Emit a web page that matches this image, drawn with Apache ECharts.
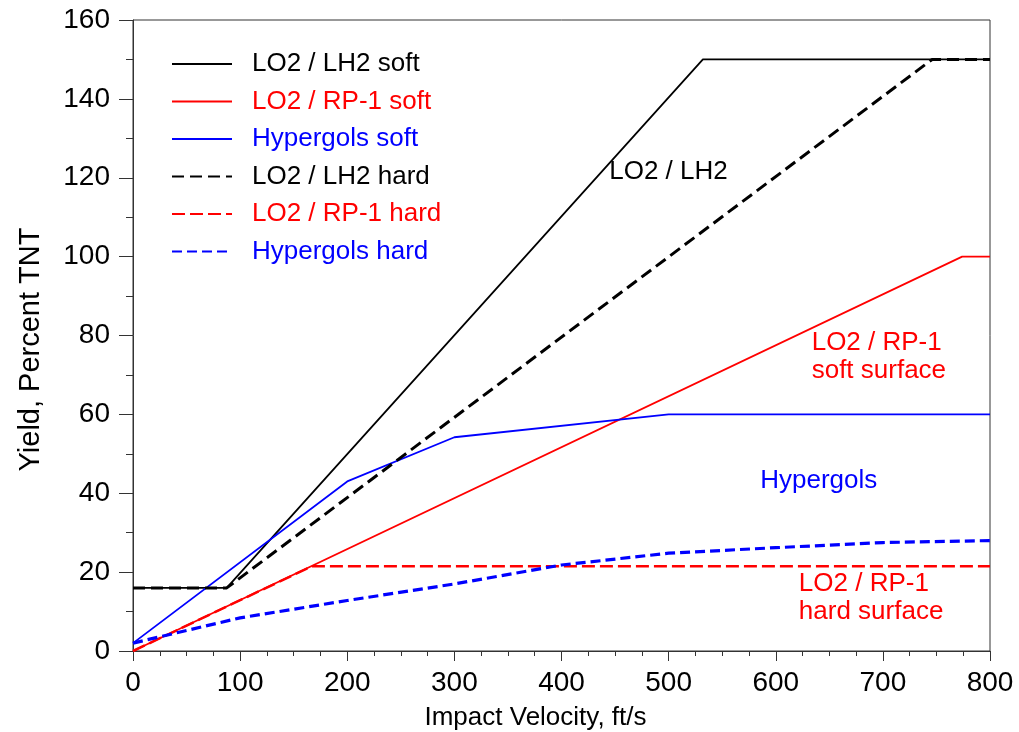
<!DOCTYPE html>
<html>
<head>
<meta charset="utf-8">
<script src="https://cdn.jsdelivr.net/npm/echarts@6/dist/echarts.min.js"></script>
<style>html,body{margin:0;padding:0;background:#fff}#c{width:1019px;height:732px}</style>
</head>
<body>
<div id="c"></div>
<script>
// Series data: [velocity ft/s, yield % TNT]
var lh2Soft   = [[0,16],[87.5,16],[532,150],[800,150]];
var rp1Soft   = [[0,0],[774,100],[800,100]];
var hypSoft   = [[0,2],[200,43],[300,54.2],[500,60],[800,60]];
var lh2Hard   = [[0,16],[87.5,16],[746,150],[800,150]];
var rp1Hard   = [[0,0],[167,21.5],[800,21.5]];
var hypHard   = [[0,2],[100,8.4],[200,12.8],[300,17],[400,21.8],[500,24.8],[600,26.2],[700,27.5],[800,28]];

var seriesNames = ['LO2 / LH2 soft','LO2 / RP-1 soft','Hypergols soft','LO2 / LH2 hard','LO2 / RP-1 hard','Hypergols hard'];
var seriesColors = ['#000000','#ff0000','#0000ff','#000000','#ff0000','#0000ff'];

// Annotation texts and their anchor points (left edge, vertical middle) in data coordinates
var annoTexts  = ['LO2 / LH2','LO2 / RP-1\nsoft surface','Hypergols','LO2 / RP-1\nhard surface'];
var annoPoints = [[445,121.5],[634,74.4],[586,43],[622,13.3]];
var annoColors = ['#000000','#ff0000','#0000ff','#ff0000'];

var xTicks = {min:0, max:800, interval:100};
var yTicks = {min:0, max:160, interval:20};

var FONT = '"Liberation Sans", Arial, sans-serif';
var chart = echarts.init(document.getElementById('c'), null, {renderer:'canvas'});

var datasets = [lh2Soft, rp1Soft, hypSoft, lh2Hard, rp1Hard, hypHard];
var dashes = [null, null, null, [12,6], [13,5], [10,5]];
var widths = [1.8, 1.8, 1.8, 3, 2.5, 3.2];

var series = datasets.map(function(d,i){
  return {
    name: seriesNames[i], type:'line', data:d, symbol:'none', showSymbol:false, animation:false,
    lineStyle:{color:seriesColors[i], width:widths[i], type: dashes[i] ? dashes[i] : 'solid'},
    itemStyle:{color:seriesColors[i]},
    z: 2 + i
  };
});

series.push({
  name:'annotations', type:'scatter', animation:false, silent:true,
  symbolSize:1, itemStyle:{color:'rgba(0,0,0,0)'},
  data: annoPoints.map(function(p,i){
    return {value:p, label:{show:true, formatter:annoTexts[i], color:annoColors[i],
      position:[0,0], align:'left', verticalAlign:'middle',
      fontSize:26, lineHeight:28, fontFamily:FONT, opacity:1}};
  }),
  z: 10
});

chart.setOption({
  backgroundColor:'#ffffff',
  animation:false,
  grid:{left:133, right:29, top:20, bottom:81, show:true, borderColor:'#333', borderWidth:1,
        backgroundColor:'transparent', containLabel:false, outerBoundsMode:'none'},
  legend:{
    orient:'vertical', left:166, top:46, itemWidth:60, itemHeight:24, itemGap:13.5 - 2,
    data: seriesNames.map(function(n,i){ return {name:n, textStyle:{color:seriesColors[i]}}; }),
    itemStyle:{opacity:0},
    textStyle:{fontSize:26, fontFamily:FONT, padding:[0,0,0,15]},
    selectedMode:false
  },
  xAxis:{
    type:'value', min:xTicks.min, max:xTicks.max, interval:xTicks.interval,
    name:'Impact Velocity, ft/s', nameLocation:'middle', nameGap:54,
    nameTextStyle:{fontSize:26, color:'#000', fontFamily:FONT, padding:[0,52,0,0]},
    axisLine:{show:true, lineStyle:{color:'#333', width:1}},
    axisTick:{show:true, inside:false, length:10, lineStyle:{color:'#333'}},
    minorTick:{show:true, splitNumber:4, length:5, lineStyle:{color:'#333'}},
    splitLine:{show:false},
    axisLabel:{fontSize:28, color:'#000', margin:18, fontFamily:FONT}
  },
  yAxis:{
    type:'value', min:yTicks.min, max:yTicks.max, interval:yTicks.interval,
    name:'Yield, Percent TNT', nameLocation:'middle', nameGap:88,
    nameTextStyle:{fontSize:29, color:'#000', fontFamily:FONT, padding:[0,28,0,0]},
    axisLine:{show:true, lineStyle:{color:'#333', width:1}},
    axisTick:{show:true, inside:false, length:14, lineStyle:{color:'#333'}},
    minorTick:{show:true, splitNumber:2, length:7, lineStyle:{color:'#333'}},
    splitLine:{show:false},
    axisLabel:{fontSize:28, color:'#000', margin:23, fontFamily:FONT}
  },
  series: series
});
</script>
</body>
</html>
